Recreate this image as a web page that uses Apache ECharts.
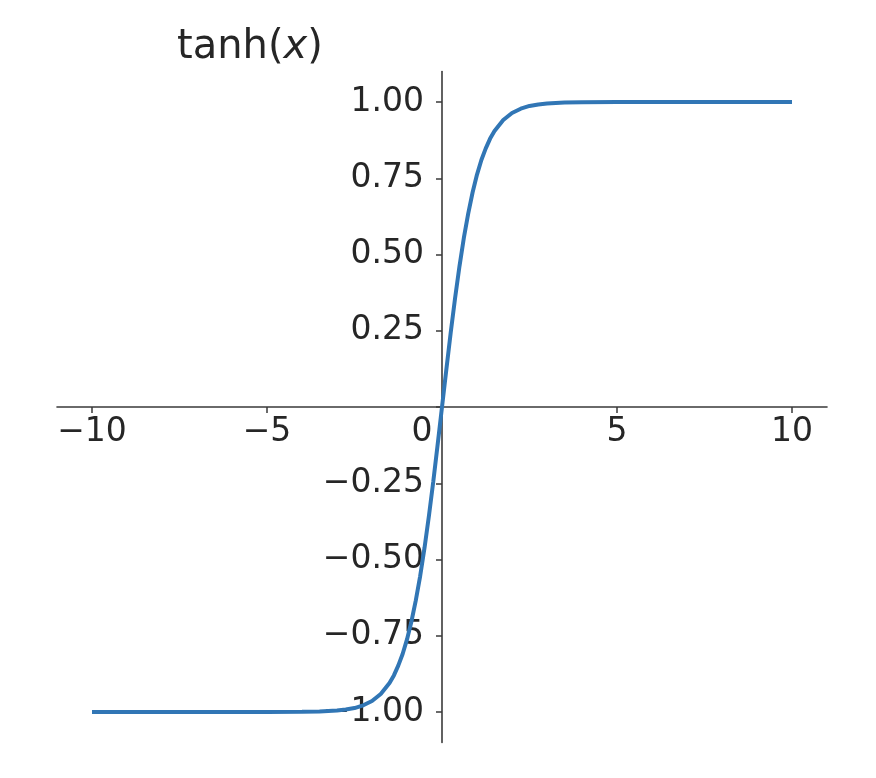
<!DOCTYPE html>
<html>
<head>
<meta charset="utf-8">
<script src="https://cdn.jsdelivr.net/npm/echarts@6/dist/echarts.min.js"></script>
<style>html,body{margin:0;padding:0;background:#fff;}#c{width:876px;height:778px;}</style>
</head>
<body>
<div id="c"></div>
<script>
const xValues = [-10, -8, -6, -5, -4, -3.5, -3, -2.75, -2.5, -2.25, -2, -1.75, -1.5, -1.375, -1.25, -1.125, -1, -0.875, -0.75, -0.625, -0.5, -0.375, -0.25, -0.125, 0,
                 0.125, 0.25, 0.375, 0.5, 0.625, 0.75, 0.875, 1, 1.125, 1.25, 1.375, 1.5, 1.75, 2, 2.25, 2.5, 2.75, 3, 3.5, 4, 5, 6, 8, 10];
const yValues = [-1.000, -1.000, -1.000, -0.9999, -0.9993, -0.998, -0.995, -0.992, -0.987, -0.978, -0.964, -0.941, -0.905, -0.880, -0.848, -0.810, -0.762, -0.704, -0.635, -0.555, -0.462, -0.358, -0.245, -0.124, 0,
                 0.124, 0.245, 0.358, 0.462, 0.555, 0.635, 0.704, 0.762, 0.810, 0.848, 0.880, 0.905, 0.941, 0.964, 0.978, 0.987, 0.992, 0.995, 0.998, 0.9993, 0.9999, 1.000, 1.000, 1.000];
const xTicks = [-10, -5, 0, 5, 10];
const yTicks = [-1, -0.75, -0.5, -0.25, 0, 0.25, 0.5, 0.75, 1];

const chart = echarts.init(document.getElementById('c'), null, {renderer: 'canvas'});
const font = 'DejaVu Sans';
const txt = '#262626';
const axisCol = '#3a3a3a';
const gridW = 770, gridH = 671;
chart.setOption({
  animation: false,
  backgroundColor: '#fff',
  title: {
    text: '{a|tanh(}{b|x}{a|)}',
    left: 172, top: 23,
    textStyle: {
      rich: {
        a: {fontFamily: font, fontSize: 40, color: txt, fontWeight: 'normal'},
        b: {fontFamily: font, fontSize: 40, color: txt, fontStyle: 'italic', fontWeight: 'normal'}
      }
    }
  },
  grid: {left: 57, width: gridW, top: 71.5, height: gridH, containLabel: false, outerBoundsMode: 'none'},
  xAxis: {
    type: 'value', min: -11, max: 11, position: 'bottom', offset: -gridH / 2,
    splitLine: {show: false},
    axisLine: {onZero: false, lineStyle: {color: axisCol, width: 1.6}},
    axisTick: {show: true, length: 6, customValues: xTicks, lineStyle: {color: axisCol, width: 1.5}},
    axisLabel: {
      customValues: xTicks, margin: 9, fontFamily: font, fontSize: 33, color: txt,
      formatter: v => v === 0 ? '{z|0}' : (v < 0 ? '\u2212' + Math.abs(v) : String(v)),
      rich: {z: {fontFamily: font, fontSize: 33, color: txt, padding: [0, 40, 0, 0]}}
    }
  },
  yAxis: {
    type: 'value', min: -1.1, max: 1.1, position: 'left', offset: -gridW / 2,
    splitLine: {show: false},
    axisLine: {onZero: false, lineStyle: {color: axisCol, width: 1.6}},
    axisTick: {show: true, length: 6, customValues: yTicks, lineStyle: {color: axisCol, width: 1.5}},
    axisLabel: {
      customValues: yTicks, margin: 18, fontFamily: font, fontSize: 33, color: txt,
      formatter: v => v === 0 ? '' : (v < 0 ? '\u2212' + Math.abs(v).toFixed(2) : v.toFixed(2))
    }
  },
  series: [{
    type: 'line',
    data: xValues.map((x, i) => [x, yValues[i]]),
    showSymbol: false,
    smooth: false,
    lineStyle: {color: '#3176b5', width: 4},
    z: 1
  }]
});
</script>
</body>
</html>
